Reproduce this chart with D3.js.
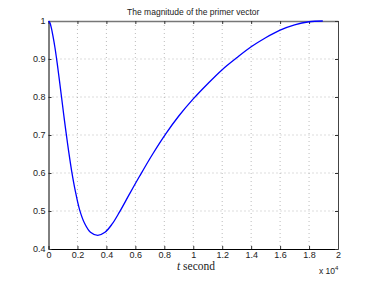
<!DOCTYPE html>
<html>
<head>
<meta charset="utf-8">
<script src="https://cdn.jsdelivr.net/npm/d3@7"></script>
<style>
  body { margin: 0; background: #fff; }
  text { font-family: "Liberation Sans", Arial, sans-serif; fill: #222; }
</style>
</head>
<body>
<script>
// primer vector magnitude, t in units of 1e4 s
const tVals = [0, 0.01, 0.02, 0.03, 0.045, 0.06, 0.075, 0.09, 0.105, 0.12, 0.14, 0.16,
  0.185, 0.215, 0.25, 0.29, 0.34, 0.39, 0.44, 0.49, 0.56, 0.63, 0.72, 0.81, 0.9,
  1.0, 1.1, 1.2, 1.3, 1.4, 1.5, 1.6, 1.7, 1.8, 1.895];
const pVals = [1.0, 0.995, 0.981, 0.962, 0.929, 0.889, 0.845, 0.8, 0.754, 0.71, 0.655, 0.605,
  0.553, 0.503, 0.467, 0.444, 0.436, 0.444, 0.466, 0.497, 0.545, 0.592, 0.65, 0.703, 0.75,
  0.795, 0.835, 0.872, 0.903, 0.932, 0.956, 0.976, 0.99, 0.998, 1.0];
const xTicks = [0, 0.2, 0.4, 0.6, 0.8, 1, 1.2, 1.4, 1.6, 1.8, 2];
const yTicks = [0.4, 0.5, 0.6, 0.7, 0.8, 0.9, 1];

const width = 374, height = 281;
const mLeft = 48.5, mRight = 338, mTop = 21, mBottom = 249;

const svg = d3.select("body").append("svg")
  .attr("width", width)
  .attr("height", height);

const x = d3.scaleLinear().domain([0, 2]).range([mLeft, mRight]);
const y = d3.scaleLinear().domain([0.4, 1]).range([mBottom, mTop]);

// dotted grid
svg.append("g").selectAll("line")
  .data(xTicks.slice(1, -1))
  .join("line")
  .attr("x1", d => x(d)).attr("x2", d => x(d))
  .attr("y1", mTop).attr("y2", mBottom)
  .attr("stroke", "#aaa").attr("stroke-width", 0.8)
  .attr("stroke-dasharray", "1,3");

svg.append("g").selectAll("line")
  .data(yTicks.slice(1, -1))
  .join("line")
  .attr("y1", d => y(d)).attr("y2", d => y(d))
  .attr("x1", mLeft).attr("x2", mRight)
  .attr("stroke", "#aaa").attr("stroke-width", 0.8)
  .attr("stroke-dasharray", "1,3");

// axes with inward ticks
const fmt = d => d3.format("")(+d.toFixed(1));
svg.append("g")
  .attr("transform", `translate(0,${mBottom})`)
  .call(d3.axisBottom(x).tickValues(xTicks).tickSizeInner(-3).tickSizeOuter(0)
    .tickPadding(3).tickFormat(fmt));
svg.append("g")
  .attr("transform", `translate(${mLeft},0)`)
  .call(d3.axisLeft(y).tickValues(yTicks).tickSizeInner(-3).tickSizeOuter(0)
    .tickPadding(3).tickFormat(fmt));
const topAx = svg.append("g")
  .attr("transform", `translate(0,${mTop})`)
  .call(d3.axisTop(x).tickValues(xTicks).tickSizeInner(-3).tickSizeOuter(0).tickFormat(""));
const rightAx = svg.append("g")
  .attr("transform", `translate(${mRight},0)`)
  .call(d3.axisRight(y).tickValues(yTicks).tickSizeInner(-3).tickSizeOuter(0).tickFormat(""));

svg.selectAll(".domain").attr("stroke", "#000");
topAx.select(".domain").attr("stroke", "#777").attr("stroke-width", 1.4);
rightAx.select(".domain").attr("stroke", "#444");
svg.selectAll(".tick line").attr("stroke", "#333");
svg.selectAll(".tick text")
  .attr("font-size", 9)
  .attr("font-family", "Liberation Sans, Arial, sans-serif")
  .attr("fill", "#222");

// the curve
const line = d3.line()
  .x((d, i) => x(tVals[i]))
  .y(d => y(d))
  .curve(d3.curveCatmullRom.alpha(0.5));

svg.append("path")
  .datum(pVals)
  .attr("d", line)
  .attr("fill", "none")
  .attr("stroke", "#0000ff")
  .attr("stroke-width", 1.3);

// title and labels
svg.append("text")
  .attr("x", (mLeft + mRight) / 2)
  .attr("y", 14.5)
  .attr("text-anchor", "middle")
  .attr("font-size", 8.5)
  .text("The magnitude of the primer vector");

const xl = svg.append("text")
  .attr("x", 196)
  .attr("y", 269.5)
  .attr("text-anchor", "middle")
  .attr("font-size", 11.5)
  .style("font-family", "'Liberation Serif', 'DejaVu Serif', serif");
xl.append("tspan").attr("font-style", "italic").text("t");
xl.append("tspan").text(" second");

const ex = svg.append("text")
  .attr("x", 319)
  .attr("y", 274)
  .attr("font-size", 8.5);
ex.append("tspan").text("x 10");
ex.append("tspan").attr("dy", -4).attr("font-size", 6).text("4");
</script>
</body>
</html>
